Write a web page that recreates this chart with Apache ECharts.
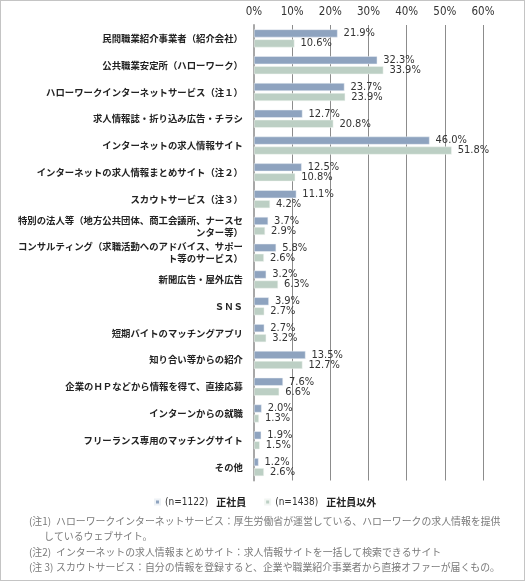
<!DOCTYPE html>
<html>
<head>
<meta charset="utf-8">
<script src="https://cdn.jsdelivr.net/npm/echarts@6/dist/echarts.min.js"></script>
<style>
html,body{margin:0;padding:0;background:#fff;}
#frame{position:absolute;left:0;top:0;width:525px;height:581px;box-sizing:border-box;border:1px solid #c4c4c4;}
#chart{position:absolute;left:0;top:0;width:525px;height:581px;}
</style>
</head>
<body>
<div id="chart"></div>
<div id="frame"></div>
<script>
const categories = [
  '民間職業紹介事業者（紹介会社）',
  '公共職業安定所（ハローワーク）',
  'ハローワークインターネットサービス（注１）',
  '求人情報誌・折り込み広告・チラシ',
  'インターネットの求人情報サイト',
  'インターネットの求人情報まとめサイト（注２）',
  'スカウトサービス（注３）',
  '特別の法人等（地方公共団体、商工会議所、ナースセ\nンター等）',
  'コンサルティング（求職活動へのアドバイス、サポー\nト等のサービス）',
  '新聞広告・屋外広告',
  'ＳＮＳ',
  '短期バイトのマッチングアプリ',
  '知り合い等からの紹介',
  '企業のＨＰなどから情報を得て、直接応募',
  'インターンからの就職',
  'フリーランス専用のマッチングサイト',
  'その他'
];
const seriesNames = ['(n=1122) 正社員', '(n=1438) 正社員以外'];
const regular = [21.9, 32.3, 23.7, 12.7, 46.0, 12.5, 11.1, 3.7, 5.8, 3.2, 3.9, 2.7, 13.5, 7.6, 2.0, 1.9, 1.2];
const nonRegular = [10.6, 33.9, 23.9, 20.8, 51.8, 10.8, 4.2, 2.9, 2.6, 6.3, 2.7, 3.2, 12.7, 6.6, 1.3, 1.5, 2.6];
const xTicks = [0, 10, 20, 30, 40, 50, 60];
const notes = [
  ['(注1)', 'ハローワークインターネットサービス：厚生労働省が運営している、ハローワークの求人情報を提供'],
  ['', 'しているウェブサイト。'],
  ['(注2)', 'インターネットの求人情報まとめサイト：求人情報サイトを一括して検索できるサイト'],
  ['(注 3)', 'スカウトサービス：自分の情報を登録すると、企業や職業紹介事業者から直接オファーが届くもの。']
];

const chart = echarts.init(document.getElementById('chart'), null, {renderer: 'canvas'});
const narrow = "'Liberation Sans Narrow', 'DejaVu Sans Condensed', 'Liberation Sans', sans-serif";
const cjk = "'Noto Sans CJK JP', sans-serif";
const catFs = 9.4;

const richStyles = {
  a: {fontFamily: cjk, fontSize: catFs, fontWeight: 'bold', color: '#222', lineHeight: 12}
};
function catLabel(v, idx) {
  const parts = v.split('\n');
  if (parts.length === 1) return '{a|' + v + '}';
  const key = 'c' + idx;
  if (!richStyles[key]) {
    const pad = Math.max(0, (parts[0].length - parts[1].length) * catFs - 103);
    richStyles[key] = {fontFamily: cjk, fontSize: catFs, fontWeight: 'bold', color: '#222', lineHeight: 12, padding: [0, 0, 0, pad]};
  }
  return '{a|' + parts[0] + '}\n{' + key + '|' + parts[1] + '}';
}
categories.forEach((c, i) => catLabel(c, i));

const graphics = [];
const noteY = [523, 538, 554, 569];
notes.forEach((n, i) => {
  if (n[0]) graphics.push({type: 'text', left: 29, top: noteY[i] - 7, style: {text: n[0], fill: '#7a7a7a', font: "9.9px " + cjk}});
  graphics.push({type: 'text', left: n[0] ? 56 : 44, top: noteY[i] - 7, style: {text: n[1], fill: '#7a7a7a', font: "9.9px " + cjk}});
});

const labelStyle = {show: true, position: 'right', distance: 6, color: '#333', fontFamily: narrow, fontSize: 11,
  formatter: function (p) { return p.value.toFixed(1) + '%'; }};

chart.setOption({
  animation: false,
  backgroundColor: '#fff',
  grid: {left: 254, right: 42, top: 25, bottom: 100.5, containLabel: false},
  legend: {
    left: 149, top: 492,
    itemWidth: 5, itemHeight: 5, itemGap: 18,
    icon: 'rect',
    data: seriesNames,
    formatter: function (name) {
      const p = name.split(' ');
      return '{n|' + p[0] + '}{b|' + p[1] + '}';
    },
    textStyle: {
      rich: {
        n: {fontFamily: narrow, fontSize: 10, color: '#333'},
        b: {fontFamily: cjk, fontSize: 10, fontWeight: 'bold', color: '#222', padding: [0, 0, 0, 8]}
      }
    }
  },
  xAxis: {
    type: 'value', position: 'top', min: 0, max: 60, interval: 10,
    axisLine: {show: false},
    axisTick: {show: false},
    axisLabel: {
      margin: 7, color: '#333', fontFamily: narrow, fontSize: 11.5,
      formatter: function (v) { return xTicks.indexOf(v) >= 0 ? v + '%' : ''; }
    },
    splitLine: {show: true, lineStyle: {color: '#8c8c8c', width: 1}}
  },
  yAxis: {
    type: 'category', data: categories, inverse: true,
    axisLine: {show: true, lineStyle: {color: '#a8a8a8', width: 2}},
    axisTick: {show: false},
    axisLabel: {
      margin: 11, color: '#222', fontFamily: cjk, fontSize: catFs, fontWeight: 'bold',
      lineHeight: 12, align: 'right', formatter: catLabel,
      rich: richStyles
    }
  },
  series: [
    {
      name: seriesNames[0], type: 'bar', data: regular,
      barWidth: 8, barGap: '25%',
      itemStyle: {color: '#8ea3bf', borderColor: '#eef2f6', borderWidth: 0.5},
      label: labelStyle
    },
    {
      name: seriesNames[1], type: 'bar', data: nonRegular,
      barWidth: 8, barGap: '25%',
      itemStyle: {color: '#bccfc4', borderColor: '#f2f6f3', borderWidth: 0.5},
      label: labelStyle
    }
  ],
  graphic: graphics
});
</script>
</body>
</html>
